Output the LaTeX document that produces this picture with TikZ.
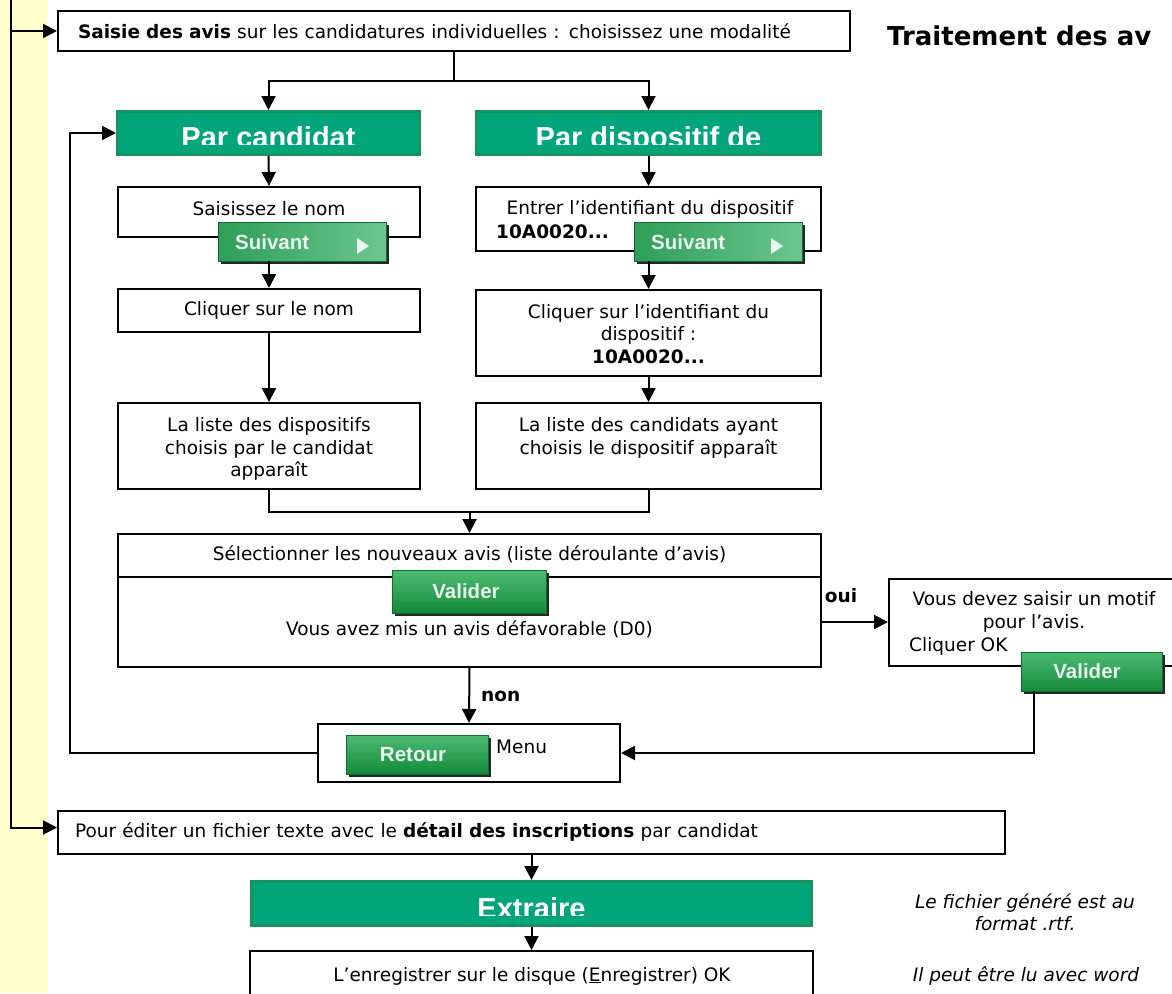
\documentclass[tikz,border=0pt]{standalone}
\usepackage{fontspec}
\setmainfont{DejaVu Sans}
\newfontfamily\arialfont{Liberation Sans}
\usetikzlibrary{arrows.meta,shadows}
\definecolor{stripc}{HTML}{FFFFCC}
\definecolor{gfill}{HTML}{00A67A}
\definecolor{gborder}{HTML}{17935F}
\definecolor{btop}{HTML}{4DBB74}
\definecolor{bbot}{HTML}{138A3A}
\definecolor{sleft}{HTML}{2E9E58}
\definecolor{sright}{HTML}{6CC690}
\definecolor{btncol}{HTML}{EAF7EE}
\newcommand\bodyfs{\fontsize{18.5}{22.5}\selectfont}
\newcommand\headfs{\arialfont\bfseries\fontsize{29}{32}\selectfont}
\newcommand\btnfs{\arialfont\bfseries\fontsize{20.5}{23}\selectfont}
\begin{document}
\begin{tikzpicture}[x=1pt,y=-1pt,
  box/.style={draw=black,line width=2pt,fill=white,inner sep=0pt},
  txt/.style={inner sep=0pt,align=center,font=\bodyfs},
  lbl/.style={inner sep=0pt,font=\bodyfs\bfseries},
  ghead/.style={draw=gborder,line width=3pt,fill=gfill,inner sep=0pt},
  gtxt/.style={inner sep=0pt,anchor=base,text=white,font=\headfs},
  btn/.style={inner sep=0pt,top color=btop,bottom color=bbot,draw=bbot!80!black,line width=0.6pt,
     drop shadow={opacity=1,fill=black!85,shadow xshift=2.5pt,shadow yshift=-2.5pt}},
  sbtn/.style={btn,left color=sleft,right color=sright},
  btxt/.style={inner sep=0pt,text=btncol,font=\btnfs},
  arr/.style={line width=2pt,-{Triangle[length=14pt,width=14pt]}},
  ln/.style={line width=2pt}
]
\useasboundingbox (0,0) rectangle (1172,993);
\fill[stripc] (0,0) rectangle (48,993);

% top box and title
\node[box,minimum width=792pt,minimum height=40pt,text width=752pt,align=left,font=\bodyfs] (top) at (454,31)
  {\textbf{Saisie des avis} sur les candidatures individuelles : choisissez une modalité};
\node[anchor=base west,inner sep=0pt,font=\bfseries\fontsize{26}{30}\selectfont] (title) at (887,45) {Traitement des av};

% green headers
\node[ghead,minimum width=302pt,minimum height=43pt] (pc) at (268.5,133) {};
\begin{scope}
  \clip (100,100) rectangle (440,144.5);
  \node[gtxt] (pct) at (268.5,147) {Par candidat};
\end{scope}
\node[ghead,minimum width=344pt,minimum height=43pt] (pd) at (648.5,133) {};
\begin{scope}
  \clip (460,100) rectangle (840,144.5);
  \node[gtxt] (pdt) at (648.5,147) {Par dispositif de};
\end{scope}

% left column
\node[box,minimum width=302pt,minimum height=50pt] (sn) at (269,212) {};
\node[txt] (snt) at (269,209) {Saisissez le nom};
\node[sbtn,minimum width=168pt,minimum height=39pt] (sv1) at (302,241.5) {};
\node[btxt,anchor=west] (sv1t) at (235,242) {Suivant};
\fill[btncol] (357,238) -- (369,246) -- (357,254) -- cycle;
\node[box,minimum width=302pt,minimum height=43pt] (cn) at (269,310.5) {};
\node[txt] (cnt) at (269,310) {Cliquer sur le nom};
\node[box,minimum width=302pt,minimum height=86pt] (ld) at (269,446) {};
\node[txt] (ldt) at (269,449) {La liste des dispositifs\\choisis par le candidat\\apparaît};

% right column
\node[box,minimum width=345pt,minimum height=64pt] (en) at (648.5,219) {};
\node[txt] (ent) at (650,209) {Entrer l’identifiant du dispositif};
\node[lbl,anchor=west] (enb) at (496,232) {10A0020...};
\node[sbtn,minimum width=168pt,minimum height=39pt] (sv2) at (718,241.5) {};
\node[btxt,anchor=west] (sv2t) at (651,242) {Suivant};
\fill[btncol] (771,238) -- (783,246) -- (771,254) -- cycle;
\node[box,minimum width=345pt,minimum height=86pt] (ci) at (648.5,333) {};
\node[txt] (cit) at (648.5,334) {Cliquer sur l’identifiant du\\dispositif :\\\textbf{10A0020...}};
\node[box,minimum width=345pt,minimum height=86pt] (lc) at (648.5,446) {};
\node[txt] (lct) at (648.5,438) {La liste des candidats ayant\\choisis le dispositif apparaît};

% selection box
\node[box,minimum width=703pt,minimum height=43pt] (sel1) at (469.5,555.5) {};
\node[txt] (sel1t) at (469.5,554) {Sélectionner les nouveaux avis (liste déroulante d’avis)};
\node[box,minimum width=703pt,minimum height=90pt] (sel2) at (469.5,622) {};
\node[btn,minimum width=154pt,minimum height=43pt] (va1) at (469,591.5) {};
\node[btxt] (va1t) at (466,591) {Valider};
\node[txt] (sel2t) at (469.5,629) {Vous avez mis un avis défavorable (D0)};

% motif box
\node[box,minimum width=296pt,minimum height=87pt] (motif) at (1037,622.5) {};
\node[txt] (motift) at (1034,612) {Vous devez saisir un motif\\pour l’avis.};
\node[txt,anchor=west] (motifok) at (909,646) {Cliquer OK};
\node[btn,minimum width=141pt,minimum height=39pt] (va2) at (1091.5,671.5) {};
\node[btxt] (va2t) at (1087,671) {Valider};

% retour box
\node[box,minimum width=302pt,minimum height=58pt] (ret) at (469,753) {};
\node[btn,minimum width=142pt,minimum height=39pt] (rb) at (417,754.5) {};
\node[btxt] (rbt) at (413,755) {Retour};
\node[txt,anchor=west] (menu) at (496,747) {Menu};

\node[lbl] (oui) at (841,596) {oui};
\node[lbl,anchor=west] (non) at (481,696) {non};

% bottom part
\node[box,minimum width=947pt,minimum height=43pt,text width=913pt,align=left,font=\bodyfs] (pour) at (531.5,832.5)
  {Pour éditer un fichier texte avec le \textbf{détail des inscriptions} par candidat};
\node[ghead,minimum width=560pt,minimum height=44pt] (ex) at (531.5,903.5) {};
\begin{scope}
  \clip (240,870) rectangle (830,915.5);
  \node[gtxt] (ext) at (531.5,918) {Extraire};
\end{scope}
\node[box,minimum width=563pt,minimum height=48pt] (en2) at (531.5,975) {};
\node[txt] (en2t) at (532,976) {L’enregistrer sur le disque (\underline{E}nregistrer) OK};
\node[txt,font=\bodyfs\itshape] (n1) at (1025,912) {Le fichier généré est au\\format .rtf.};
\node[txt,font=\bodyfs\itshape] (n2) at (1026,976) {Il peut être lu avec word};

% connectors
\coordinate (L0) at (11,-5);
\draw[arr] (L0) |- (top.west);
\draw[arr] (L0) |- ([yshift=5pt]pour.west);
\coordinate (split) at (454,81);
\draw[ln] (top.south) -- (split);
\draw[arr] (split) -| (pc.north);
\draw[arr] (split) -| (pd.north);
\draw[arr] (pc.south) -- (sn.north);
\draw[arr] (pd.south) -- (en.north);
\draw[arr] (sv1.south -| sn.south) -- (cn.north);
\draw[arr] (sv2.south -| en.south) -- (ci.north);
\draw[arr] (cn.south) -- (ld.north);
\draw[arr] (ci.south) -- (lc.north);
\coordinate (merge) at (469.5,512);
\draw[ln] (ld.south) |- (merge) -| (lc.south);
\draw[arr] (merge) -- (sel1.north);
\draw[arr] (sel2.east) -- (sel2.east -| motif.west);
\draw[arr] (sel2.south) -- (ret.north);
\draw[arr] ([xshift=-57.5pt]va2.south) |- (ret.east);
\coordinate (loop) at (70,753);
\draw[arr] (ret.west) -- (loop) |- (pc.west);
\draw[arr] (pour.south) -- (ex.north);
\draw[arr] (ex.south) -- (en2.north);
\end{tikzpicture}
\end{document}
